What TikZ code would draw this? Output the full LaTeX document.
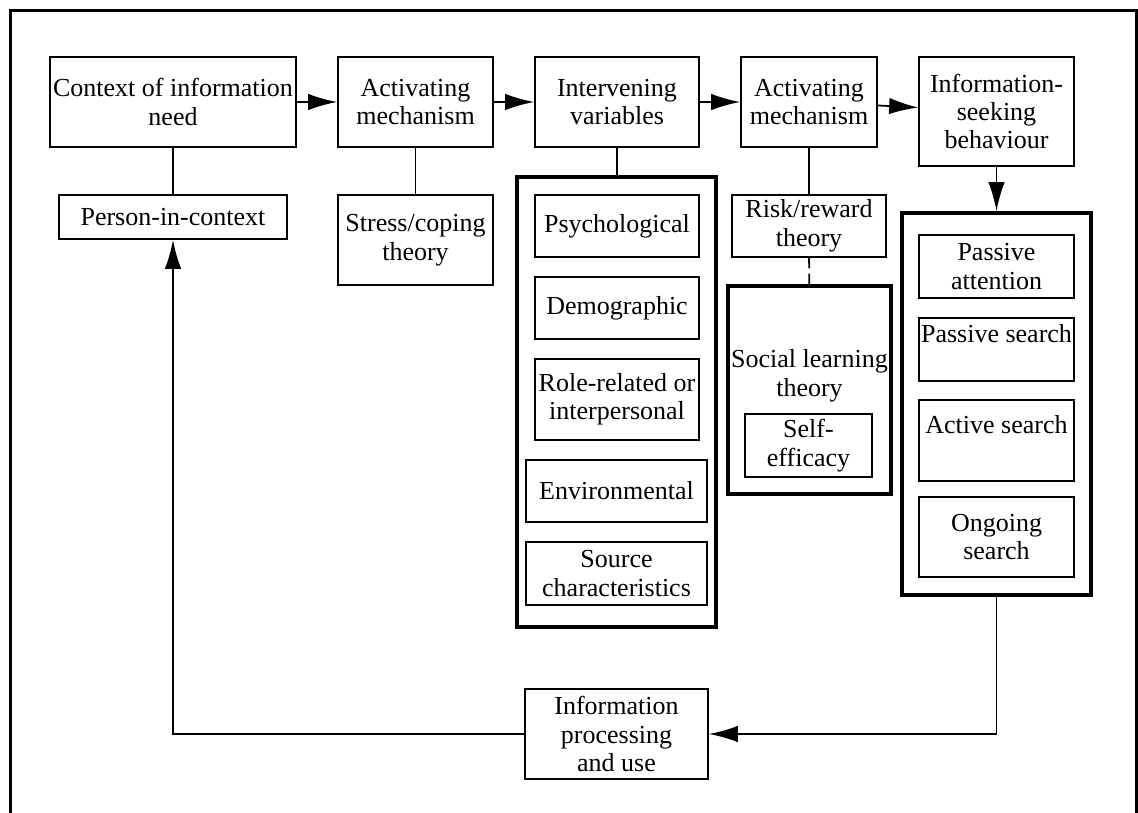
\documentclass[tikz,border=0pt]{standalone}
\usepackage{fontspec}
\setmainfont{Liberation Serif}
\usepackage{tikz}
\usetikzlibrary{arrows.meta,positioning}

\begin{document}
\begin{tikzpicture}[x=0.02cm,y=-0.02cm,
	box/.style={draw,line width=1pt,inner sep=0pt,align=center,font=\fontsize{14.8}{16.2}\selectfont},
	group/.style={draw,line width=2.2pt,inner sep=0pt},
	lbl/.style={inner sep=0pt,align=center,font=\fontsize{14.8}{16.2}\selectfont},
	link/.style={line width=1pt},
	flow/.style={line width=1pt,-{Latex[length=0.58cm,width=0.33cm]}}]
	\useasboundingbox (0,0) rectangle (1138,813);
	\draw[line width=1.7pt] (10.5,813) -- (10.5,11) -- (1136,11) -- (1136,813);
	\node[box,minimum width=4.92cm,minimum height=1.8cm] (ctx) at (173,102) {Context of information\\need};
	\node[box,minimum width=3.1cm,minimum height=1.8cm] (act1) at (415.5,102) {Activating\\mechanism};
	\node[box,minimum width=3.28cm,minimum height=1.8cm] (inter) at (617,102) {Intervening\\variables};
	\node[box,minimum width=2.72cm,minimum height=1.8cm] (act2) at (809,102) {Activating\\mechanism};
	\node[box,minimum width=3.1cm,minimum height=2.18cm] (seek) at (996.5,111.5) {Information-\\seeking\\behaviour};
	\node[box,minimum width=4.56cm,minimum height=0.88cm] (person) at (173,217) {Person-in-context};
	\node[box,minimum width=3.1cm,minimum height=1.8cm] (stress) at (415.5,240) {Stress/coping\\theory};
	\node[group,minimum width=3.98cm,minimum height=9cm] (vars) at (616.5,402) {};
	\node[box,minimum width=3.28cm,minimum height=1.24cm] (psych) at (617,226) {Psychological};
	\node[box,minimum width=3.28cm,minimum height=1.24cm] (demo) at (617,308) {Demographic};
	\node[box,minimum width=3.28cm,minimum height=1.62cm] (role) at (617,399.5) {Role-related or\\interpersonal};
	\node[box,minimum width=3.62cm,minimum height=1.24cm] (env) at (616.5,491) {Environmental};
	\node[box,minimum width=3.62cm,minimum height=1.26cm] (source) at (616.5,573.5) {Source\\characteristics};
	\node[box,minimum width=3.08cm,minimum height=1.24cm] (risk) at (809,226) {Risk/reward\\theory};
	\node[group,minimum width=3.26cm,minimum height=4.16cm] (social) at (809.5,390) {};
	\node[lbl] (socialtxt) at (809.5,376) {Social learning\\theory};
	\node[box,minimum width=2.54cm,minimum height=1.26cm] (self) at (808.5,445.5) {Self-\\efficacy};
	\node[group,minimum width=3.78cm,minimum height=7.64cm] (modes) at (996.5,404) {};
	\node[box,minimum width=3.1cm,minimum height=1.26cm] (pattn) at (996.5,266.5) {Passive\\attention};
	\node[box,minimum width=3.1cm,minimum height=1.26cm] (psearch) at (996.5,349.5) {};
	\node[lbl] (psearchtxt) at (996.5,334) {Passive search};
	\node[box,minimum width=3.1cm,minimum height=1.62cm] (asearch) at (996.5,440.5) {};
	\node[lbl] (asearchtxt) at (996.5,425) {Active search};
	\node[box,minimum width=3.1cm,minimum height=1.6cm] (osearch) at (996.5,537) {Ongoing\\search};
	\node[box,minimum width=3.66cm,minimum height=1.8cm] (proc) at (616.5,734) {Information\\processing\\and use};
	\draw[flow] (ctx) -- (act1);
	\draw[flow] (act1) -- (inter);
	\draw[flow] (inter) -- (act2);
	\draw[flow] (act2) -- (seek);
	\draw[flow] (seek) -- (modes);
	\draw[link] (ctx) -- (person);
	\draw[link] (act1) -- (stress);
	\draw[link] (inter) -- (vars);
	\draw[link] (act2) -- (risk);
	\draw[link,dash pattern=on 6pt off 3pt] (risk) -- (social);
	\draw[flow] (modes.south) |- (proc.east);
	\draw[flow] (proc.west) -| (person.south);
\end{tikzpicture}
\end{document}
